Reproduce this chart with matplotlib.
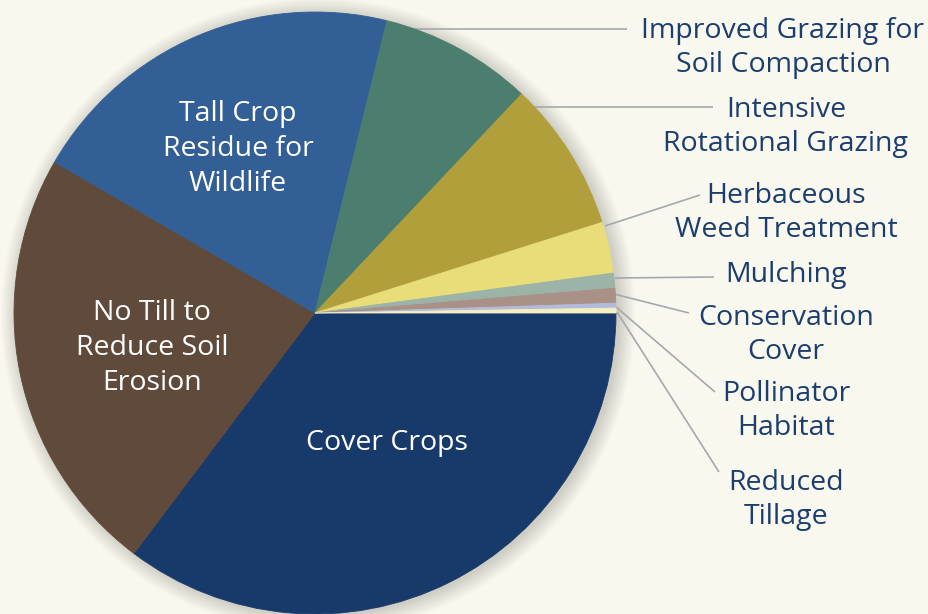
import matplotlib
matplotlib.use("Agg")
import matplotlib.pyplot as plt
from matplotlib.patches import Circle

categories = ["Cover Crops", "No Till to Reduce Soil Erosion", "Tall Crop Residue for Wildlife",
              "Improved Grazing for Soil Compaction", "Intensive Rotational Grazing",
              "Herbaceous Weed Treatment", "Mulching", "Conservation Cover",
              "Pollinator Habitat", "Reduced Tillage"]
values = [35.3, 23.1, 20.5, 8.2, 8.1, 2.75, 0.8, 0.8, 0.26, 0.26]
colors = ["#183a6b", "#5f4a3b", "#325f95", "#4b7e6e", "#b19f3b",
          "#e8dd78", "#9cb4a8", "#a99187", "#b3bbdc", "#f5efbf"]

inner_labels = ["Cover Crops", "No Till to\nReduce Soil\nErosion", "Tall Crop\nResidue for\nWildlife"]
outer_labels = ["Improved Grazing for\nSoil Compaction", "Intensive\nRotational Grazing",
                "Herbaceous\nWeed Treatment", "Mulching", "Conservation\nCover",
                "Pollinator\nHabitat", "Reduced\nTillage"]

W, H = 929, 614
BG = "#f8f8ee"
TXT = "#1c3d6e"
FONT = ["Open Sans", "DejaVu Sans"]
FS = 20.5
LS = 1.32

fig = plt.figure(figsize=(W / 100, H / 100), dpi=100, facecolor=BG)
ax = fig.add_axes([0, 0, 1, 1])
ax.set_facecolor(BG)

cx, cy, r = 315, H - 313, 301

# soft shadow
for i in range(14):
    ax.add_patch(Circle((cx + 3, cy - 2), r + 16 - i * 1.2, facecolor="#6a6a60",
                        alpha=0.02, edgecolor="none", zorder=0))

wedges, _ = ax.pie(values, colors=colors, startangle=0, counterclock=False,
                   center=(cx, cy), radius=r, wedgeprops=dict(linewidth=0.6))
for w in wedges:
    w.set_edgecolor(w.get_facecolor())
    w.set_zorder(2)

ax.set_xlim(0, W)
ax.set_ylim(0, H)
ax.set_aspect("equal")
ax.axis("off")

# inner labels
inner_pos = [(387, 443), (152, 348), (238, 149)]
for lab, (x, y) in zip(inner_labels, inner_pos):
    ax.text(x, H - y, lab, color="white", ha="center", va="center", fontsize=FS,
            family=FONT, linespacing=LS, zorder=5)

# outer labels with leader lines
label_pos = [(783, 48), (786, 127), (786, 213), (786, 275), (786, 335), (786, 411), (786, 500)]
lines = [((415, 29), (627, 29)), ((533, 107), (713, 107)), ((605, 226), (700, 195)),
         ((615, 278), (714, 277)), ((614, 294), (689, 313)), ((616, 307), (715, 392)),
         ((617, 312), (719, 472))]
for lab, (x, y), (p0, p1) in zip(outer_labels, label_pos, lines):
    ax.text(x, H - y, lab, color=TXT, ha="center", va="center", fontsize=FS,
            family=FONT, linespacing=LS, zorder=5)
    ax.plot([p0[0], p1[0]], [H - p0[1], H - p1[1]], color="#a7a8ad", lw=1.2,
            zorder=1, solid_capstyle="butt")

fig.savefig("out.png", dpi=100, facecolor=BG)
